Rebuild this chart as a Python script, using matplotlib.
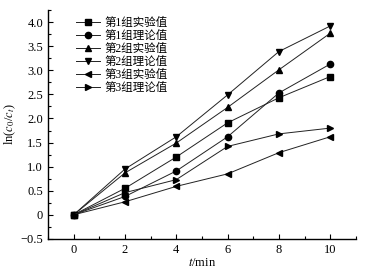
import numpy as np
import matplotlib
matplotlib.use('Agg')
import matplotlib.pyplot as plt
from matplotlib.ticker import MultipleLocator, FixedLocator

plt.rcParams['font.family'] = ['Liberation Serif', 'Noto Sans CJK SC']
plt.rcParams['mathtext.fontset'] = 'stix'

# data
t = [0, 2, 4, 6, 8, 10]
g1_exp = [0, 0.55, 1.20, 1.91, 2.43, 2.87]
g1_the = [0, 0.38, 0.91, 1.62, 2.53, 3.13]
g2_exp = [0, 0.87, 1.49, 2.23, 3.01, 3.77]
g2_the = [0, 0.95, 1.62, 2.49, 3.39, 3.92]
g3_exp = [0, 0.27, 0.59, 0.85, 1.29, 1.62]
g3_the = [0, 0.46, 0.73, 1.42, 1.68, 1.80]
labels = ['第1组实验值', '第1组理论值', '第2组实验值', '第2组理论值', '第3组实验值', '第3组理论值']
markers = ['s', 'o', '^', 'v', '<', '>']
yticks = [-0.5, 0, 0.5, 1.0, 1.5, 2.0, 2.5, 3.0, 3.5, 4.0]
yticklabels = ['\u22120.5', '0', '0.5', '1.0', '1.5', '2.0', '2.5', '3.0', '3.5', '4.0']
xticks = [0, 2, 4, 6, 8, 10]

fig = plt.figure(figsize=(3.75, 2.73), dpi=100)
ax = fig.add_axes([0.128, 0.125, 0.821, 0.838])

series = [g1_exp, g1_the, g2_exp, g2_the, g3_exp, g3_the]
for s, m, lab in zip(series, markers, labels):
    ax.plot(t, s, marker=m, color='#222222', lw=0.7, ms=4.5, label=lab,
            markerfacecolor='black', markeredgecolor='black')

ax.set_xlim(-1, 11)
ax.set_ylim(-0.5, 4.25)
ax.xaxis.set_major_locator(FixedLocator(xticks))
ax.xaxis.set_minor_locator(MultipleLocator(1))
ax.set_yticks(yticks)
ax.set_yticklabels(yticklabels)
ax.yaxis.set_minor_locator(MultipleLocator(0.25))
ax.tick_params(which='both', direction='in', labelsize=9, width=0.8)
ax.tick_params(which='major', length=3.5)
ax.tick_params(which='minor', length=2)
ax.spines['top'].set_visible(False)
ax.spines['right'].set_visible(False)
ax.spines['left'].set_linewidth(1.0)
ax.spines['bottom'].set_linewidth(1.0)

ax.set_xlabel('$t$/min', fontsize=9, labelpad=1)
ax.set_ylabel('ln($c_0$/$c_t$)', fontsize=9, labelpad=2)

leg = ax.legend(loc='upper left', bbox_to_anchor=(0.065, 1.005), frameon=False,
                fontsize=8.3, handlelength=2.1, labelspacing=0.08, borderpad=0.2,
                handletextpad=0.35)

plt.savefig('out.png', dpi=100)
